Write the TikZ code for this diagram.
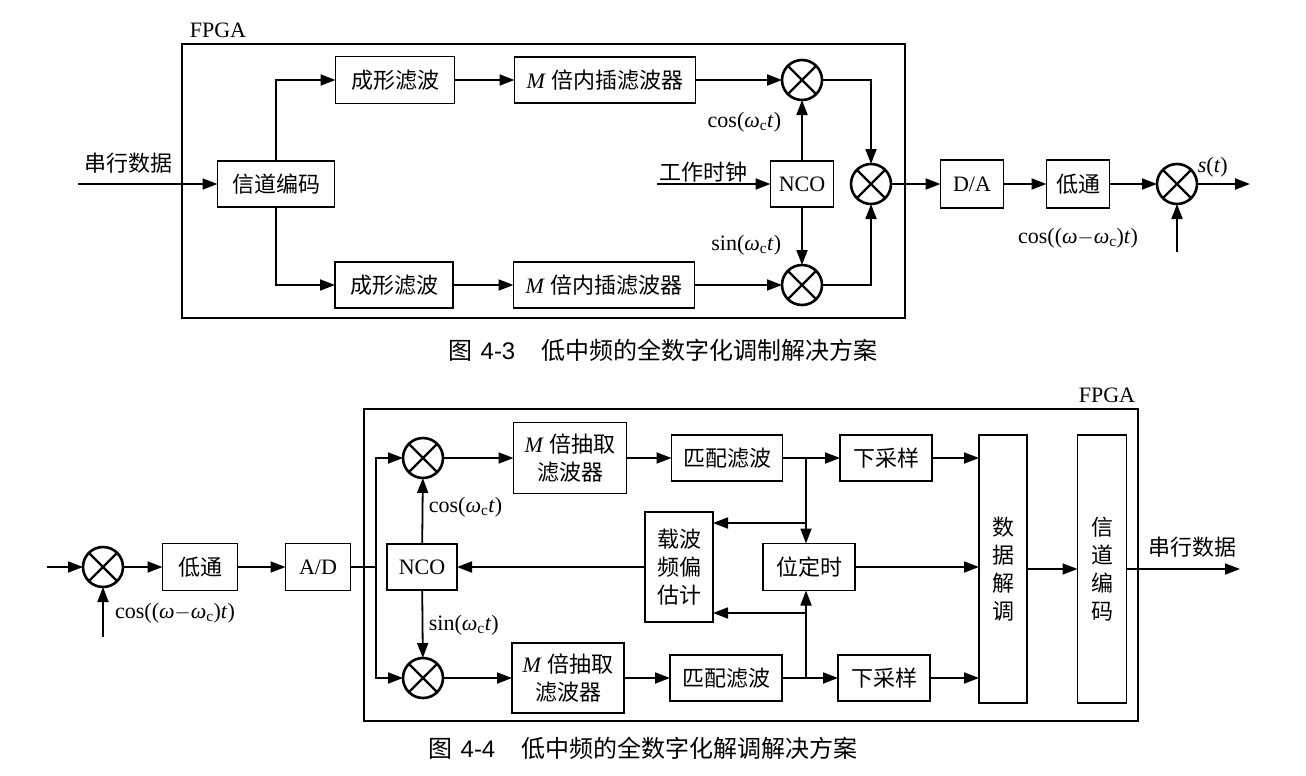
\documentclass[tikz,border=0pt]{standalone}
\usepackage{fontspec}
\setmainfont{Liberation Serif}
\newfontfamily\cjk{Noto Sans CJK SC}
\newfontfamily\tuHao{Liberation Sans}
\usetikzlibrary{arrows.meta}
\newcommand{\hunPinR}{20pt}
\newcommand{\hunPinQi}[2] % nev, hely
{\node[hunpin] (#1) at (#2) {};
\draw[line width=2.4pt] (#1.45)--(#1.225) (#1.135)--(#1.315);}
\newcommand{\wc}{\textit{ω}\textsubscript{c}}
\newcommand{\coswc}{cos(\wc\textit{t})}
\newcommand{\sinwc}{sin(\wc\textit{t})}
\newcommand{\cosCha}{cos((\textit{ω}$-$\wc)\textit{t})}
\newcommand{\emM}{{\rmfamily\itshape M}\hspace{0.3em}}

\begin{document}
\begin{tikzpicture}[x=1pt,y=-1pt,line width=1.8pt,
	font=\fontsize{22}{28}\selectfont,
	kuang/.style={draw,line width=1.8pt,inner sep=0pt,outer sep=0pt,font=\fontsize{22}{28}\selectfont\cjk,align=center},
	hunpin/.style={draw,circle,line width=2.6pt,minimum size=2*\hunPinR,inner sep=0pt,outer sep=0pt},
	wenzi/.style={inner sep=0pt,font=\fontsize{22}{28}\selectfont\cjk},
	tuMing/.style={inner sep=0pt,font=\fontsize{24}{28}\selectfont\cjk},
	jianTou/.style={-{Triangle[length=15pt,width=11pt]}}]
	\useasboundingbox (0,0) rectangle (1306,776);
	% 调制：FPGA 框
	\draw (182,44) rectangle (905,318);
	\node[inner sep=0pt] (fpga1) at (218,30) {FPGA};
	% 调制：方框
	\node[kuang,minimum width=117pt,minimum height=46pt] (bianMa1) at (276,184) {信道编码};
	\node[kuang,minimum width=119pt,minimum height=47pt] (chengXingS) at (395,80) {成形滤波};
	\node[kuang,minimum width=118pt,minimum height=46pt] (chengXingX) at (394,285) {成形滤波};
	\node[kuang,minimum width=181pt,minimum height=46pt] (chaZhiS) at (605,80) {\emM 倍内插滤波器};
	\node[kuang,minimum width=181pt,minimum height=46pt] (chaZhiX) at (604,285) {\emM 倍内插滤波器};
	\node[kuang,font=\fontsize{22}{28}\selectfont,minimum width=63pt,minimum height=46pt] (nco1) at (802,184) {NCO};
	\node[kuang,font=\fontsize{22}{28}\selectfont,minimum width=63pt,minimum height=48pt] (da) at (972,184) {D/A};
	\node[kuang,minimum width=63pt,minimum height=48pt] (diTong1) at (1078,184) {低通};
	\hunPinQi{hunS}{802,80}
	\hunPinQi{hunX}{802,285}
	\hunPinQi{hunHe}{871,184}
	\hunPinQi{hunChu1}{1177,184}
	% 调制：文字
	\node[wenzi] (chuanXing1) at (128,163) {串行数据};
	\node[wenzi] (gongZuo) at (703,172) {工作时钟};
	\node[inner sep=0pt,anchor=east] (cosLbl1) at (782,122) {\coswc};
	\node[inner sep=0pt,anchor=east] (sinLbl1) at (782,245) {\sinwc};
	\node[inner sep=0pt,anchor=west] (stLbl) at (1197,167) {\textit{s}(\textit{t})};
	\node[inner sep=0pt] (cosLbl2) at (1078,238) {\cosCha};
	\coordinate (ruKou1) at (78,184);
	\coordinate (shiZhong) at (657,184);
	\coordinate (chuKou1) at (1250,184);
	\coordinate (benZhen1) at (1177,252);
	% 调制：连线
	\draw[jianTou] (ruKou1)--(bianMa1);
	\draw[jianTou] (bianMa1.north) |- (chengXingS.west);
	\draw[jianTou] (bianMa1.south) |- (chengXingX.west);
	\draw[jianTou] (chengXingS)--(chaZhiS);
	\draw[jianTou] (chengXingX)--(chaZhiX);
	\draw[jianTou] (chaZhiS)--(hunS);
	\draw[jianTou] (chaZhiX)--(hunX);
	\draw[jianTou] (shiZhong)--(nco1);
	\draw[jianTou] (nco1)--(hunS);
	\draw[jianTou] (nco1)--(hunX);
	\draw[jianTou] (hunS.east) -| (hunHe.north);
	\draw[jianTou] (hunX.east) -| (hunHe.south);
	\draw[jianTou] (hunHe)--(da);
	\draw[jianTou] (da)--(diTong1);
	\draw[jianTou] (diTong1)--(hunChu1);
	\draw[jianTou] (hunChu1)--(chuKou1);
	\draw[jianTou] (benZhen1)--(hunChu1);
	\node[tuMing] (tu3) at (663,350) {图\hspace{8pt}{\tuHao 4-3}\hspace{26pt}低中频的全数字化调制解决方案};
	% 解调：FPGA 框
	\draw (364,409) rectangle (1138,721);
	\node[inner sep=0pt] (fpga2) at (1107,395) {FPGA};
	% 解调：方框
	\hunPinQi{hunRu}{103,567}
	\node[kuang,minimum width=75pt,minimum height=47pt] (diTong2) at (200,567) {低通};
	\node[kuang,font=\fontsize{22}{28}\selectfont,minimum width=65pt,minimum height=47pt] (ad) at (318,567) {A/D};
	\hunPinQi{hunI}{423,458}
	\hunPinQi{hunQ}{423,678}
	\node[kuang,font=\fontsize{22}{28}\selectfont,minimum width=70pt,minimum height=46pt] (nco2) at (422,567) {NCO};
	\node[kuang,minimum width=113pt,minimum height=71pt] (chouQuI) at (570,458) {\emM 倍抽取\\滤波器};
	\node[kuang,minimum width=112pt,minimum height=70pt] (chouQuQ) at (568,678) {\emM 倍抽取\\滤波器};
	\node[kuang,minimum width=111pt,minimum height=46pt] (piPeiI) at (727,458) {匹配滤波};
	\node[kuang,minimum width=112pt,minimum height=46pt] (piPeiQ) at (726,678) {匹配滤波};
	\node[kuang,minimum width=68pt,minimum height=110pt] (zaiBo) at (679,567) {载波\\频偏\\估计};
	\node[kuang,minimum width=92pt,minimum height=47pt] (dingShi) at (809,567) {位定时};
	\node[kuang,minimum width=92pt,minimum height=46pt] (xiaCaiI) at (886,458) {下采样};
	\node[kuang,minimum width=92pt,minimum height=46pt] (xiaCaiQ) at (884,678) {下采样};
	\node[kuang,minimum width=48pt,minimum height=268pt] (jieTiao) at (1003,569) {数\\据\\解\\调};
	\node[kuang,minimum width=49pt,minimum height=268pt] (bianMa2) at (1102,569) {信\\道\\编\\码};
	% 解调：文字
	\node[inner sep=0pt] (cosLbl3) at (175,613) {\cosCha};
	\node[inner sep=0pt,anchor=west] (cosLbl4) at (428,507) {\coswc};
	\node[inner sep=0pt,anchor=west] (sinLbl2) at (428,625) {\sinwc};
	\node[wenzi] (chuanXing2) at (1192,547) {串行数据};
	\coordinate (ruKou2) at (47,567);
	\coordinate (benZhen2) at (103,637);
	\coordinate (zongXian) at (376,567);
	\coordinate (fenI) at (806,458);
	\coordinate (fenQ) at (806,678);
	\coordinate (zhiI) at (806,523);
	\coordinate (zhiQ) at (806,613);
	\coordinate (chuKou2) at (1240,569);
	% 解调：连线
	\draw[jianTou] (ruKou2)--(hunRu);
	\draw[jianTou] (benZhen2)--(hunRu);
	\draw[jianTou] (hunRu)--(diTong2);
	\draw[jianTou] (diTong2)--(ad);
	\draw (ad.east)--(zongXian);
	\draw[jianTou] (zongXian) |- (hunI.west);
	\draw[jianTou] (zongXian) |- (hunQ.west);
	\draw[jianTou] (nco2)--(hunI);
	\draw[jianTou] (nco2)--(hunQ);
	\draw[jianTou] (hunI)--(chouQuI);
	\draw[jianTou] (hunQ)--(chouQuQ);
	\draw[jianTou] (chouQuI)--(piPeiI);
	\draw[jianTou] (chouQuQ)--(piPeiQ);
	\draw[jianTou] (piPeiI)--(xiaCaiI);
	\draw[jianTou] (piPeiQ)--(xiaCaiQ);
	\draw[jianTou] (fenI)--(fenI |- dingShi.north);
	\draw[jianTou] (fenQ)--(fenQ |- dingShi.south);
	\draw[jianTou] (zhiI)--(zhiI -| zaiBo.east);
	\draw[jianTou] (zhiQ)--(zhiQ -| zaiBo.east);
	\draw[jianTou] (zaiBo)--(nco2);
	\draw[jianTou] (dingShi.east)--(dingShi.east -| jieTiao.west);
	\draw[jianTou] (xiaCaiI.east)--(xiaCaiI.east -| jieTiao.west);
	\draw[jianTou] (xiaCaiQ.east)--(xiaCaiQ.east -| jieTiao.west);
	\draw[jianTou] (jieTiao)--(bianMa2);
	\draw[jianTou] (bianMa2)--(chuKou2);
	\node[tuMing] (tu4) at (643,748) {图\hspace{8pt}{\tuHao 4-4}\hspace{26pt}低中频的全数字化解调解决方案};
\end{tikzpicture}
\end{document}
